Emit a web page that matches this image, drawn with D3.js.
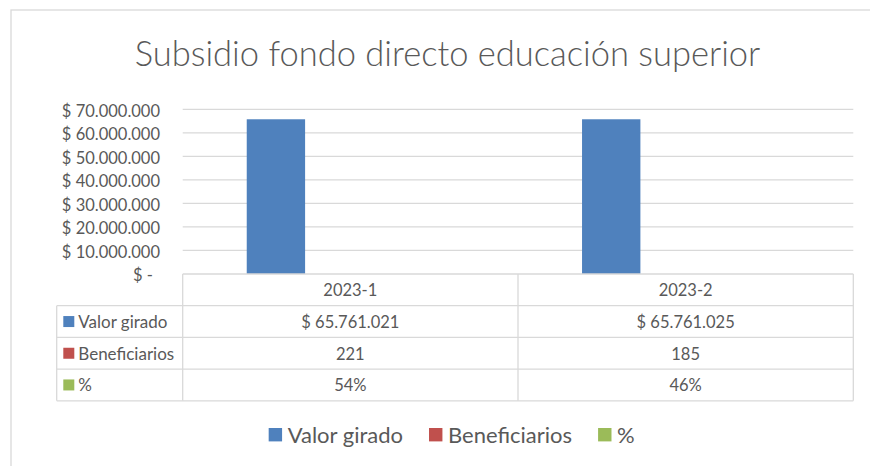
<!DOCTYPE html>
<html>
<head>
<meta charset="utf-8">
<script src="https://cdn.jsdelivr.net/npm/d3@7"></script>
<style>
  html, body { margin: 0; padding: 0; background: #fff; }
  svg { display: block; font-family: Lato, "Open Sans", sans-serif; }
</style>
</head>
<body>
<svg id="canvas"></svg>
<script>
// data
const titulo = 'Subsidio fondo directo educación superior';
const categorias = ['2023-1', '2023-2'];
const series = ['Valor girado', 'Beneficiarios', '%'];
const valorGirado = [65761021, 65761025];
const beneficiarios = [221, 185];
const porcentaje = [0.54, 0.46];
const yTicks = [0, 10000000, 20000000, 30000000, 40000000, 50000000, 60000000, 70000000];
const colores = ['#4F81BD', '#C0504D', '#9BBB59'];

(function() {
  const w = 870;
  const h = 466;
  const textColor = '#595959';
  const lineColor = '#d9d9d9';

  const locale = d3.formatLocale({ decimal: ',', thousands: '.', grouping: [3], currency: ['$ ', ''] });
  const fmtMoney = locale.format('$,.0f');
  const fmtInt = locale.format(',.0f');
  const fmtPct = locale.format('.0%');

  const valores = [valorGirado, beneficiarios, porcentaje];
  const formatos = [fmtMoney, fmtInt, fmtPct];

  const svg = d3.select('#canvas').attr('width', w).attr('height', h);

  // chart border (runs off the right and bottom)
  svg.append('rect')
    .attr('x', 11).attr('y', 10).attr('width', 900).attr('height', 500)
    .attr('fill', '#fff').attr('stroke', lineColor).attr('stroke-width', 1.3);

  // title
  svg.append('text')
    .attr('x', 447.5).attr('y', 66)
    .attr('text-anchor', 'middle')
    .attr('fill', textColor)
    .style('font-size', '34.5px')
    .style('font-weight', 300)
    .text(titulo);

  // plot area
  const plotL = 182.7, plotR = 853.3, plotT = 109.3, plotB = 274;

  const y = d3.scaleLinear().domain([0, 70000000]).range([plotB, plotT]);

  const x0 = d3.scaleBand().domain(categorias).range([plotL, plotR]);
  const x1 = d3.scaleBand().domain(series)
    .range([56, x0.bandwidth() - 56])
    .paddingInner(0.216).paddingOuter(0.108);

  // gridlines
  svg.append('g')
    .selectAll('line')
    .data(yTicks.slice(1))
    .enter()
    .append('line')
    .attr('x1', plotL).attr('x2', plotR)
    .attr('y1', (d) => y(d)).attr('y2', (d) => y(d))
    .attr('stroke', lineColor).attr('stroke-width', 1.3);

  // y axis labels
  const yAxis = d3.axisLeft(y).tickValues(yTicks).tickSize(0).tickPadding(0)
    .tickFormat((d) => d === 0 ? '$ -' : fmtMoney(d));
  const gy = svg.append('g').attr('transform', 'translate(160,0)').call(yAxis);
  gy.select('.domain').remove();
  gy.selectAll('text')
    .attr('fill', textColor)
    .attr('dy', '0.42em')
    .style('font-size', '16.5px')
    .style('font-family', 'Lato, "Open Sans", sans-serif');
  gy.selectAll('.tick').filter((d) => d === 0).select('text').attr('x', -7);

  // bars
  const barData = [];
  categorias.forEach((c, i) => {
    series.forEach((s, j) => {
      barData.push({ cat: c, serie: s, valor: valores[j][i], color: colores[j] });
    });
  });

  svg.append('g')
    .selectAll('rect')
    .data(barData)
    .enter()
    .append('rect')
    .attr('x', (d) => x0(d.cat) + x1(d.serie))
    .attr('width', x1.bandwidth())
    .attr('y', (d) => y(d.valor))
    .attr('height', (d) => y(0) - y(d.valor))
    .attr('fill', (d) => d.color);

  // data table
  const rowH = 31.7;
  const tableLeft = 56.7;
  const tbl = svg.append('g').attr('stroke', lineColor).attr('stroke-width', 1.3);

  tbl.append('line').attr('x1', plotL).attr('x2', plotR).attr('y1', plotB).attr('y2', plotB);
  for (let r = 1; r <= 4; r++) {
    tbl.append('line')
      .attr('x1', tableLeft).attr('x2', plotR)
      .attr('y1', plotB + r * rowH).attr('y2', plotB + r * rowH);
  }
  tbl.append('line').attr('x1', tableLeft).attr('x2', tableLeft)
    .attr('y1', plotB + rowH).attr('y2', plotB + 4 * rowH);
  [plotL, plotL + x0.bandwidth(), plotR].forEach((xx) => {
    tbl.append('line').attr('x1', xx).attr('x2', xx)
      .attr('y1', plotB).attr('y2', plotB + 4 * rowH);
  });

  // header row
  svg.append('g')
    .selectAll('text')
    .data(categorias)
    .enter()
    .append('text')
    .attr('x', (d) => x0(d) + x0.bandwidth() / 2)
    .attr('y', plotB + rowH / 2 + 6.3)
    .attr('text-anchor', 'middle')
    .attr('fill', textColor)
    .style('font-size', '16.5px')
    .text((d) => d);

  // series rows
  series.forEach((s, j) => {
    const cy = plotB + rowH * (j + 1) + rowH / 2;
    svg.append('rect')
      .attr('x', 63.3).attr('y', cy - 5.5).attr('width', 11).attr('height', 11)
      .attr('fill', colores[j]);
    svg.append('text')
      .attr('x', 78.3).attr('y', cy + 6.3)
      .attr('fill', textColor)
      .style('font-size', '17px')
      .text(s);
    categorias.forEach((c, i) => {
      svg.append('text')
        .attr('x', x0(c) + x0.bandwidth() / 2)
        .attr('y', cy + 6.3)
        .attr('text-anchor', 'middle')
        .attr('fill', textColor)
        .style('font-size', '16.5px')
        .text(formatos[j](valores[j][i]));
    });
  });

  // legend
  const legend = svg.append('g');
  let lx = 0;
  series.forEach((s, j) => {
    const item = legend.append('g').attr('transform', 'translate(' + lx + ',0)');
    item.append('rect')
      .attr('x', 0).attr('y', 428).attr('width', 13.4).attr('height', 13.4)
      .attr('fill', colores[j]);
    const t = item.append('text')
      .attr('x', 19).attr('y', 443.3)
      .attr('fill', textColor)
      .style('font-size', '22px')
      .text(s);
    lx += 19 + t.node().getComputedTextLength() + 26;
  });
  const legendW = lx - 26;
  legend.attr('transform', 'translate(' + (451.7 - legendW / 2) + ',0)');
})();
</script>
</body>
</html>
